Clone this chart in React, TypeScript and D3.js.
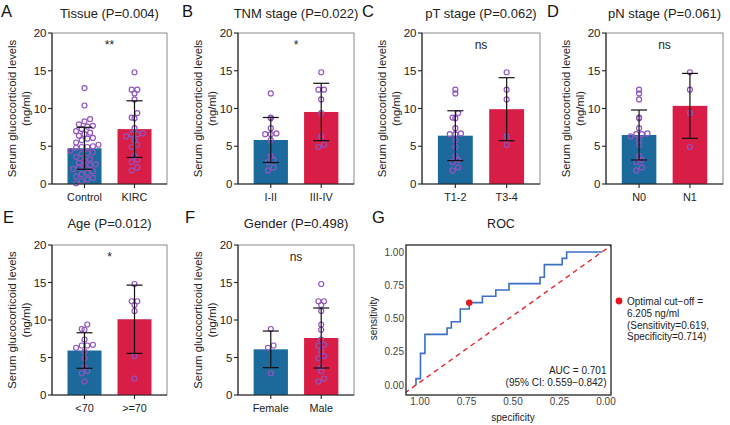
import React from "react";
import * as d3 from "d3";

const FONT = "'Liberation Sans', Arial, Helvetica, sans-serif";
const BAR_COLORS = ["#1c6a9c", "#d81e47"];
const DOT_COLOR = "#9254bf";

const yTicks = [0, 5, 10, 15, 20];
const yTitle = ["Serum glucocorticoid levels", "(ng/ml)"];

// A: tissue
const tissueLabels = ["Control", "KIRC"];
const tissueMeans = [4.73, 7.27];
const tissueSDs = [2.78, 3.75];
const controlValues = [
  12.7, 10.4, 8.6, 8.3, 7.9, 7.7, 7.6, 7.3, 7.0, 6.8, 6.6, 6.4, 6.1, 6.0,
  5.8, 5.5, 5.2, 5.0, 4.9, 4.9, 4.8, 4.4, 4.2, 4.1, 4.0, 3.6, 3.3, 3.1, 2.8,
  2.6, 2.5, 2.4, 2.2, 2.0, 1.7, 1.5, 1.3, 1.0, 0.8, 0.6, 0.4, 0.1,
];
const kircValues = [
  14.8, 12.5, 12.5, 12.0, 11.2, 9.4, 8.8, 8.7, 7.4, 6.7, 6.6, 6.6, 6.3, 5.8,
  5.2, 4.9, 3.7, 3.2, 2.9, 2.2, 1.8,
];

// B: TNM stage
const tnmLabels = ["I-II", "III-IV"];
const tnmMeans = [5.83, 9.54];
const tnmSDs = [2.98, 3.8];
const tnmEarly = [12.0, 8.8, 8.7, 7.4, 6.7, 6.6, 6.6, 5.8, 3.7, 3.2, 2.9, 2.2, 1.8];
const tnmLate = [14.8, 12.5, 12.5, 11.2, 9.4, 6.3, 5.2, 4.9];

// C: pT stage
const ptLabels = ["T1-2", "T3-4"];
const ptMeans = [6.4, 9.91];
const ptSDs = [3.3, 4.17];
const ptLow = [12.5, 12.0, 9.4, 8.8, 8.7, 7.4, 6.7, 6.6, 6.6, 5.8, 4.9, 3.7, 3.2, 2.9, 2.2, 1.8];
const ptHigh = [14.8, 12.5, 11.2, 6.3, 5.2];

// D: pN stage
const pnLabels = ["N0", "N1"];
const pnMeans = [6.49, 10.35];
const pnSDs = [3.31, 4.3];
const pnN0 = [12.5, 12.0, 11.2, 8.8, 8.7, 7.4, 6.7, 6.6, 6.6, 6.3, 5.8, 5.2, 3.7, 3.2, 2.9, 2.2, 1.8];
const pnN1 = [14.8, 12.5, 9.4, 4.9];

// E: age
const ageLabels = ["<70", ">=70"];
const ageMeans = [5.93, 10.1];
const ageSDs = [2.37, 4.55];
const ageYounger = [9.4, 8.8, 8.7, 7.4, 6.7, 6.6, 6.6, 6.3, 5.8, 4.9, 3.7, 3.2, 2.9, 1.8];
const ageOlder = [14.8, 12.5, 12.5, 12.0, 11.2, 5.2, 2.2];

// F: gender
const genderLabels = ["Female", "Male"];
const genderMeans = [6.09, 7.6];
const genderSDs = [2.44, 4.0];
const genderFemale = [8.8, 6.6, 6.3, 2.9];
const genderMale = [14.8, 12.5, 12.5, 12.0, 11.2, 9.4, 8.7, 7.4, 6.7, 6.6, 5.8, 5.2, 4.9, 3.7, 3.2, 2.2, 1.8];

// G: ROC curve vertices (specificity, sensitivity)
const rocSpec = [1, 1, 0.976, 0.976, 0.952, 0.952, 0.833, 0.833, 0.81, 0.81, 0.762, 0.762, 0.714, 0.714, 0.643, 0.643, 0.571, 0.571, 0.5, 0.5, 0.333, 0.333, 0.31, 0.31, 0.214, 0.214, 0.19, 0.19, 0];
const rocSens = [0, 0.048, 0.048, 0.238, 0.238, 0.381, 0.381, 0.429, 0.429, 0.476, 0.476, 0.571, 0.571, 0.619, 0.619, 0.667, 0.667, 0.714, 0.714, 0.762, 0.762, 0.81, 0.81, 0.905, 0.905, 0.952, 0.952, 1, 1];
const rocTicks = [1, 0.75, 0.5, 0.25, 0];
const rocTickLabels = ["1.00", "0.75", "0.50", "0.25", "0.00"];
const cutoffSpec = 0.714;
const cutoffSens = 0.619;
const aucLines = ["AUC = 0.701", "(95% CI: 0.559\u22120.842)"];
const cutoffLegend = ["Optimal cut\u2212off =", "6.205 ng/ml", "(Sensitivity=0.619,", "Specificity=0.714)"];

type Frame = { x0: number; x1: number; y0: number; y1: number };
type BarPanelProps = {
  letter: string;
  letterPos: [number, number];
  title: string;
  titleY: number;
  sig: string;
  labels: string[];
  means: number[];
  sds: number[];
  groups: number[][];
  frame: Frame;
};

// Scatter layout: values are binned into rows and each row is spread
// symmetrically about the bar centre.
function swarm(values: number[], y: (v: number) => number, base: number, rowH: number, dx: number) {
  const rows = new Map<number, number[]>();
  values.forEach((v, i) => {
    const r = Math.floor((base - y(v)) / rowH);
    if (!rows.has(r)) rows.set(r, []);
    rows.get(r)!.push(i);
  });
  const out: { x: number; y: number }[] = new Array(values.length);
  rows.forEach((idx) => {
    idx.sort((a, b) => values[a] - values[b]);
    const n = idx.length;
    idx.forEach((i, k) => {
      out[i] = { x: (k - (n - 1) / 2) * dx, y: y(values[i]) };
    });
  });
  return out;
}

function BarPanel(p: BarPanelProps) {
  const { x0, x1, y0, y1 } = p.frame;
  const y = d3.scaleLinear().domain([0, 20]).range([y1, y0]);
  const x = d3.scaleBand<string>().domain(p.labels).range([x0, x1]).paddingInner(0.32).paddingOuter(0.31);
  const bw = x.bandwidth();
  const cap = 8;
  const yc = (y0 + y1) / 2;
  return (
    <g fontFamily={FONT}>
      <rect x={x0} y={y0} width={x1 - x0} height={y1 - y0} fill="none" stroke="#8a8a8a" strokeWidth={1} />
      {p.labels.map((l, i) => (
        <rect key={"b" + l} x={x(l)} y={y(p.means[i])} width={bw} height={y1 - y(p.means[i])} fill={BAR_COLORS[i]} />
      ))}
      {p.groups.map((vals, gi) => {
        const cx = (x(p.labels[gi]) as number) + bw / 2;
        return swarm(vals, y, y1, 6.6, 5.6).map((pt, j) => (
          <circle key={`d${gi}-${j}`} cx={cx + pt.x} cy={pt.y} r={2.5} fill="none" stroke={DOT_COLOR} strokeWidth={1.2} />
        ));
      })}
      {p.labels.map((l, i) => {
        const cx = (x(l) as number) + bw / 2;
        const lo = y(p.means[i] - p.sds[i]);
        const hi = y(p.means[i] + p.sds[i]);
        return (
          <g key={"e" + l} stroke="#111" strokeWidth={1.2}>
            <line x1={cx} x2={cx} y1={lo} y2={hi} />
            <line x1={cx - cap} x2={cx + cap} y1={lo} y2={lo} />
            <line x1={cx - cap} x2={cx + cap} y1={hi} y2={hi} />
          </g>
        );
      })}
      <line x1={x0} x2={x0} y1={y0} y2={y1} stroke="#222" strokeWidth={1.1} />
      <line x1={x0} x2={x1} y1={y1} y2={y1} stroke="#222" strokeWidth={1.1} />
      {yTicks.map((t) => (
        <g key={"t" + t}>
          <line x1={x0 - 4} x2={x0} y1={y(t)} y2={y(t)} stroke="#222" strokeWidth={1.1} />
          <text x={x0 - 5.5} y={y(t)} dy="0.35em" textAnchor="end" fontSize={11.5} fill="#222">
            {t}
          </text>
        </g>
      ))}
      {p.labels.map((l) => {
        const cx = (x(l) as number) + bw / 2;
        return (
          <g key={"x" + l}>
            <line x1={cx} x2={cx} y1={y1} y2={y1 + 4} stroke="#222" strokeWidth={1.1} />
            <text x={cx} y={y1 + 17} textAnchor="middle" fontSize={10.8} fill="#222">
              {l}
            </text>
          </g>
        );
      })}
      <g transform={`translate(${x0 - 36},${yc}) rotate(-90)`} fontSize={11.3} fill="#222" textAnchor="middle">
        <text y={0}>{yTitle[0]}</text>
        <text y={14}>{yTitle[1]}</text>
      </g>
      <text x={(x0 + x1) / 2} y={p.titleY} textAnchor="middle" fontSize={13} fill="#222">
        {p.title}
      </text>
      <text x={p.letterPos[0]} y={p.letterPos[1]} fontSize={16.5} fill="#111">
        {p.letter}
      </text>
      <text x={(x0 + x1) / 2} y={y0 + 15.5} textAnchor="middle" fontSize={12} fill="#222">
        {p.sig}
      </text>
    </g>
  );
}

function RocPanel() {
  const f: Frame = { x0: 406, x1: 611, y0: 245, y1: 395 };
  const x = d3.scaleLinear().domain([1, 0]).range([416, 602]);
  const y = d3.scaleLinear().domain([0, 1]).range([385, 252]);
  const pts: [number, number][] = rocSpec.map((s, i) => [s, rocSens[i]]);
  const path = d3.line<[number, number]>().x((d) => x(d[0])).y((d) => y(d[1]))(pts) || "";
  return (
    <g fontFamily={FONT}>
      <defs>
        <clipPath id="rocclip">
          <rect x={f.x0} y={f.y0} width={f.x1 - f.x0} height={f.y1 - f.y0} />
        </clipPath>
      </defs>
      <line
        clipPath="url(#rocclip)"
        x1={x(1.1)}
        y1={y(-0.1)}
        x2={x(-0.1)}
        y2={y(1.1)}
        stroke="#e8262b"
        strokeWidth={1.4}
        strokeDasharray="5,4"
      />
      <path d={path} fill="none" stroke="#3a6fc4" strokeWidth={1.6} />
      <circle cx={x(cutoffSpec)} cy={y(cutoffSens)} r={3.2} fill="#e8161b" />
      <rect x={f.x0} y={f.y0} width={f.x1 - f.x0} height={f.y1 - f.y0} fill="none" stroke="#333" strokeWidth={1.4} />
      {rocTicks.map((t, i) => (
        <text key={"rx" + t} x={x(t) + 4} y={405} textAnchor="middle" fontSize={10} fill="#444">
          {rocTickLabels[i]}
        </text>
      ))}
      {rocTicks.map((t, i) => (
        <text key={"ry" + t} x={404} y={y(1 - t)} dy="0.35em" textAnchor="end" fontSize={10} fill="#444">
          {rocTickLabels[4 - i]}
        </text>
      ))}
      <text x={513} y={421} textAnchor="middle" fontSize={10} fill="#222">
        specificity
      </text>
      <text transform="translate(377,318.5) rotate(-90)" textAnchor="middle" fontSize={10} fill="#222">
        sensitivity
      </text>
      <text x={606.5} y={373.5} textAnchor="end" fontSize={10} fill="#222">
        {aucLines[0]}
      </text>
      <text x={606.5} y={386} textAnchor="end" fontSize={10} fill="#222">
        {aucLines[1]}
      </text>
      <text x={501} y={228} textAnchor="middle" fontSize={12.5} fill="#222">
        ROC
      </text>
      <text x={372} y={223} fontSize={16.5} fill="#111">
        G
      </text>
      <circle cx={619} cy={301} r={3.4} fill="#e8161b" />
      {cutoffLegend.map((s, i) => (
        <text key={"lg" + i} x={627} y={305 + i * 11.8} fontSize={10} fill="#222">
          {s}
        </text>
      ))}
    </g>
  );
}

export default function App() {
  const top = { y0: 33, y1: 184 };
  const bot = { y0: 245, y1: 395 };
  const panels: BarPanelProps[] = [
    {
      letter: "A", letterPos: [1, 17], title: "Tissue (P=0.004)", titleY: 18, sig: "**",
      labels: tissueLabels, means: tissueMeans, sds: tissueSDs, groups: [controlValues, kircValues],
      frame: { x0: 52, x1: 167, ...top },
    },
    {
      letter: "B", letterPos: [182, 17], title: "TNM stage (P=0.022)", titleY: 18, sig: "*",
      labels: tnmLabels, means: tnmMeans, sds: tnmSDs, groups: [tnmEarly, tnmLate],
      frame: { x0: 238, x1: 354, ...top },
    },
    {
      letter: "C", letterPos: [362, 17], title: "pT stage (P=0.062)", titleY: 18, sig: "ns",
      labels: ptLabels, means: ptMeans, sds: ptSDs, groups: [ptLow, ptHigh],
      frame: { x0: 422, x1: 540, ...top },
    },
    {
      letter: "D", letterPos: [547, 17], title: "pN stage (P=0.061)", titleY: 18, sig: "ns",
      labels: pnLabels, means: pnMeans, sds: pnSDs, groups: [pnN0, pnN1],
      frame: { x0: 606, x1: 723, ...top },
    },
    {
      letter: "E", letterPos: [3, 223], title: "Age (P=0.012)", titleY: 228, sig: "*",
      labels: ageLabels, means: ageMeans, sds: ageSDs, groups: [ageYounger, ageOlder],
      frame: { x0: 52, x1: 167, ...bot },
    },
    {
      letter: "F", letterPos: [185, 223], title: "Gender (P=0.498)", titleY: 228, sig: "ns",
      labels: genderLabels, means: genderMeans, sds: genderSDs, groups: [genderFemale, genderMale],
      frame: { x0: 238, x1: 354, ...bot },
    },
  ];
  return (
    <svg
      width={730}
      height={425}
      viewBox="0 0 730 425"
      style={{ position: "absolute", left: 0, top: 0, background: "#fff" }}
    >
      <rect width={730} height={425} fill="#fff" />
      {panels.map((p) => (
        <BarPanel key={p.letter} {...p} />
      ))}
      <RocPanel />
    </svg>
  );
}
